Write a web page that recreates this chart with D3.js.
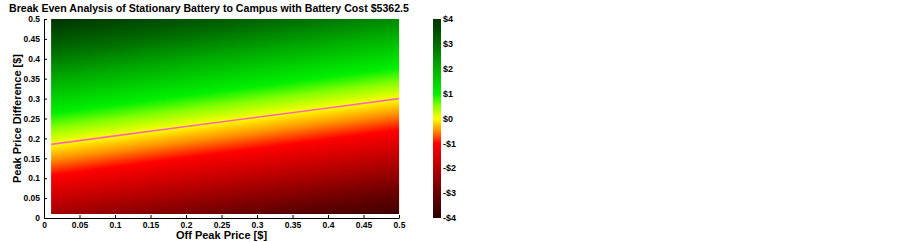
<!DOCTYPE html>
<html lang="en">
<head>
  <meta charset="utf-8" />
  <title>Break Even Analysis</title>
  <style type="text/css">
    body { margin: 0; background: #fff; }
    svg text { font-family: "Liberation Sans", Arial, sans-serif; font-weight: 700; fill: #000; }
  </style>
</head>
<body>
  <div id="graphic"></div>

  <script src="https://cdn.jsdelivr.net/npm/d3@7/dist/d3.min.js"></script>
  <script>
    // grid (value in $ at each off peak / peak diff point)
    var offPeak = [0.01, 0.1, 0.2, 0.3, 0.4, 0.5];
    var peakDiff = [0.01, 0.1, 0.2, 0.3, 0.4, 0.5];
    // rows follow peakDiff, columns follow offPeak
    var savings = [
      [-2.22, -2.49, -2.79, -3.09, -3.39, -3.68],
      [-1.08, -1.35, -1.65, -1.94, -2.24, -2.54],
      [ 0.19, -0.08, -0.38, -0.67, -0.97, -1.27],
      [ 1.46,  1.19,  0.89,  0.59,  0.30,  0.00],
      [ 2.73,  2.46,  2.16,  1.87,  1.57,  1.27],
      [ 4.00,  3.73,  3.43,  3.14,  2.84,  2.54]
    ];
    var xTicks = [0, 0.05, 0.1, 0.15, 0.2, 0.25, 0.3, 0.35, 0.4, 0.45, 0.5];
    var yTicks = [0, 0.05, 0.1, 0.15, 0.2, 0.25, 0.3, 0.35, 0.4, 0.45, 0.5];
    var cbTicks = [-4, -3, -2, -1, 0, 1, 2, 3, 4];
    var cmapStops = [-4, -3, -2, -1, -0.5, 0, 0.5, 1, 2, 3, 4];
    var cmapColours = ['#2c0000', '#680000', '#b40000', '#ff0000', '#ff8c00', '#ffff00',
                       '#8cff00', '#00f000', '#00b000', '#006a00', '#003300'];

    var W = 902, H = 242;
    var margin = {left: 44, top: 19, right: 503, bottom: 24};

    var svg = d3.select('#graphic').append('svg')
      .attr('width', W).attr('height', H);

    var x = d3.scaleLinear().domain([0, 0.5]).range([margin.left, W - margin.right]);
    var y = d3.scaleLinear().domain([0, 0.5]).range([H - margin.bottom, margin.top]);

    var colour = d3.scaleLinear().domain(cmapStops).range(cmapColours).clamp(true);

    // bilinear lookup in the grid, like shading interp
    function lookup(xv, yv) {
      var i = Math.max(0, Math.min(offPeak.length - 2, d3.bisectRight(offPeak, xv) - 1));
      var j = Math.max(0, Math.min(peakDiff.length - 2, d3.bisectRight(peakDiff, yv) - 1));
      var tx = (xv - offPeak[i]) / (offPeak[i + 1] - offPeak[i]);
      var ty = (yv - peakDiff[j]) / (peakDiff[j + 1] - peakDiff[j]);
      var a = savings[j][i], b = savings[j][i + 1], c = savings[j + 1][i], d = savings[j + 1][i + 1];
      return (a * (1 - tx) + b * tx) * (1 - ty) + (c * (1 - tx) + d * tx) * ty;
    }

    // heatmap drawn to a canvas then placed as an image
    var x0 = x(offPeak[0]), x1 = x(offPeak[offPeak.length - 1]);
    var y0 = y(peakDiff[peakDiff.length - 1]), y1 = y(peakDiff[0]);
    var cw = Math.round(x1 - x0), ch = Math.round(y1 - y0);
    var canvas = document.createElement('canvas');
    canvas.width = cw; canvas.height = ch;
    var ctx = canvas.getContext('2d');
    var img = ctx.createImageData(cw, ch);
    for (var py = 0; py < ch; py++) {
      for (var px = 0; px < cw; px++) {
        var v = lookup(x.invert(x0 + px + 0.5), y.invert(y0 + py + 0.5));
        var c = d3.rgb(colour(v));
        var k = (py * cw + px) * 4;
        img.data[k] = c.r; img.data[k + 1] = c.g; img.data[k + 2] = c.b; img.data[k + 3] = 255;
      }
    }
    ctx.putImageData(img, 0, 0);
    svg.append('image')
      .attr('x', x0).attr('y', y0).attr('width', cw).attr('height', ch)
      .attr('preserveAspectRatio', 'none')
      .attr('href', canvas.toDataURL());

    // break even line: zero crossing in each column of the grid
    var breakEven = offPeak.map(function(xv, i) {
      for (var j = 0; j < peakDiff.length - 1; j++) {
        var a = savings[j][i], b = savings[j + 1][i];
        if (a <= 0 && b >= 0) {
          return [xv, peakDiff[j] + (0 - a) / (b - a) * (peakDiff[j + 1] - peakDiff[j])];
        }
      }
      return null;
    }).filter(function(d) { return d; });

    svg.append('path')
      .datum(breakEven)
      .attr('d', d3.line().x(function(d) { return x(d[0]); }).y(function(d) { return y(d[1]); }))
      .attr('fill', 'none')
      .attr('stroke', '#ff66b8')
      .attr('stroke-width', 1.6);

    // axes
    var xAxis = svg.append('g')
      .attr('transform', 'translate(0,' + y(0) + ')')
      .call(d3.axisBottom(x).tickValues(xTicks).tickSizeInner(-3).tickSizeOuter(0).tickPadding(4)
        .tickFormat(function(d) { return d3.format('')(d); }));
    var yAxis = svg.append('g')
      .attr('transform', 'translate(' + x(0) + ',0)')
      .call(d3.axisLeft(y).tickValues(yTicks).tickSizeInner(-3).tickSizeOuter(0).tickPadding(4)
        .tickFormat(function(d) { return d3.format('')(d); }));
    [xAxis, yAxis].forEach(function(g) {
      g.selectAll('text').style('font-size', '8.5px').attr('font-family', null);
      g.selectAll('line, path').attr('stroke', '#000');
      g.attr('font-family', null).attr('font-size', null);
    });

    // colourbar
    var cb = {x: 433, w: 8};
    var cy = d3.scaleLinear().domain([-4, 4]).range([y(0), y(0.5)]);
    var defs = svg.append('defs');
    var grad = defs.append('linearGradient').attr('id', 'cbgrad')
      .attr('x1', 0).attr('y1', 1).attr('x2', 0).attr('y2', 0);
    grad.selectAll('stop').data(cmapStops).enter().append('stop')
      .attr('offset', function(d) { return (d + 4) / 8; })
      .attr('stop-color', function(d) { return colour(d); });
    svg.append('rect')
      .attr('x', cb.x).attr('y', cy(4)).attr('width', cb.w).attr('height', cy(-4) - cy(4))
      .attr('fill', 'url(#cbgrad)');
    svg.selectAll('.cblab').data(cbTicks).enter().append('text')
      .attr('class', 'cblab')
      .attr('x', cb.x + cb.w + 2).attr('y', function(d) { return cy(d); })
      .attr('dy', '0.35em')
      .style('font-size', '9px')
      .text(function(d) { return (d < 0 ? '-$' : '$') + Math.abs(d); });

    // titles
    svg.append('text').attr('x', 9).attr('y', 12).style('font-size', '10.6px')
      .text('Break Even Analysis of Stationary Battery to Campus with Battery Cost $5362.5');
    svg.append('text').attr('x', (x(0) + x(0.5)) / 2).attr('y', 239)
      .attr('text-anchor', 'middle').style('font-size', '11px')
      .text('Off Peak Price [$]');
    svg.append('text')
      .attr('transform', 'translate(21,' + (y(0.25)) + ') rotate(-90)')
      .attr('text-anchor', 'middle').style('font-size', '11px')
      .text('Peak Price Difference [$]');
  </script>
</body>
</html>
